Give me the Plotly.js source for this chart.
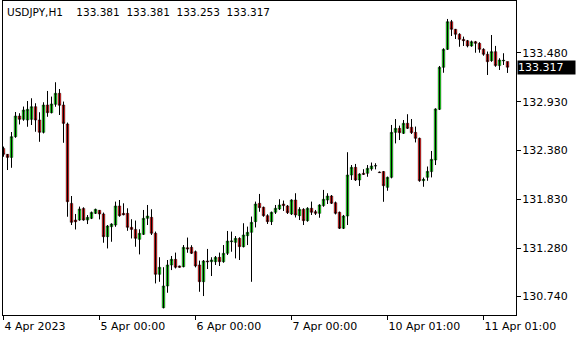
<!DOCTYPE html>
<html>
<head>
<meta charset="utf-8">
<script src="https://cdn.plot.ly/plotly-3.0.1.min.js"></script>
<style>html,body{margin:0;padding:0;background:#fff;}#chart{width:580px;height:340px;}</style>
</head>
<body>
<div id="chart"></div>
<script>
// Hourly bar times (categories): 4 Apr 00:00 .. 7 Apr 22:00, then 10 Apr 00:00 .. 11 Apr 07:00
const sessions = [
  {day: '2023-04-04', from: 0, to: 23},
  {day: '2023-04-05', from: 0, to: 23},
  {day: '2023-04-06', from: 0, to: 23},
  {day: '2023-04-07', from: 0, to: 22},
  {day: '2023-04-10', from: 0, to: 23},
  {day: '2023-04-11', from: 0, to: 7}
];
const times = [];
sessions.forEach(s => { for (let h = s.from; h <= s.to; h++) times.push(s.day + ' ' + String(h).padStart(2, '0') + ':00'); });

const open = [
132.405,132.338,132.304,132.537,132.769,132.731,132.724,132.731,132.874,132.724,
132.585,132.892,132.806,132.900,133.024,132.892,132.679,131.787,131.600,131.600,
131.731,131.600,131.619,131.675,131.709,131.668,131.413,131.525,131.544,131.758,
131.675,131.675,131.518,131.495,131.383,131.439,131.619,131.630,131.451,130.990,
130.615,130.859,131.095,131.158,131.084,131.076,131.289,131.293,131.245,131.095,
130.907,131.140,131.132,131.132,131.181,131.132,131.226,131.357,131.349,131.394,
131.301,131.424,131.462,131.582,131.788,131.743,131.649,131.582,131.687,131.724,
131.780,131.758,131.668,131.825,131.649,131.720,131.593,131.732,131.694,131.675,
131.762,131.825,131.870,131.795,131.687,131.507,131.645,132.106,132.192,132.050,
132.125,132.125,132.174,132.207,132.139,132.144,131.967,132.080,132.585,132.630,
132.574,132.687,132.642,132.585,132.518,132.042,132.080,132.144,132.275,132.844,
133.316,133.518,133.829,133.743,133.687,133.630,133.615,133.556,133.604,133.585,
133.518,133.462,133.391,133.492,133.335,133.388,133.381];
const high = [
132.424,132.342,132.589,132.814,132.799,132.874,132.937,132.967,132.911,132.810,
132.922,133.050,132.986,133.147,133.072,132.930,132.694,131.870,131.668,131.750,
131.742,131.656,131.694,131.727,131.713,131.683,131.544,131.563,131.806,131.825,
131.787,131.731,131.608,131.593,131.495,131.713,131.769,131.720,131.469,131.181,
131.069,131.151,131.196,131.233,131.087,131.319,131.402,131.316,131.256,131.143,
131.151,131.275,131.181,131.196,131.233,131.319,131.477,131.469,131.420,131.405,
131.563,131.525,131.638,131.806,131.893,131.750,131.664,131.694,131.769,131.833,
131.818,131.769,131.833,131.900,131.743,131.732,131.743,131.806,131.713,131.777,
131.938,131.900,131.881,131.806,131.694,131.657,132.361,132.218,132.230,132.125,
132.170,132.218,132.245,132.237,132.144,132.151,132.087,132.668,132.735,132.660,
132.724,132.788,132.735,132.649,132.525,132.076,132.200,132.376,132.855,133.331,
133.529,133.859,133.848,133.747,133.698,133.660,133.623,133.615,133.612,133.597,
133.529,133.492,133.679,133.556,133.417,133.473,133.381];
const low = [
132.312,132.162,132.188,132.525,132.675,132.716,132.649,132.668,132.593,132.480,
132.574,132.761,132.799,132.874,132.780,132.469,131.638,131.544,131.495,131.593,
131.593,131.555,131.611,131.668,131.608,131.346,131.282,131.357,131.525,131.638,
131.653,131.480,131.394,131.301,131.215,131.432,131.544,131.432,130.889,130.907,
130.608,130.784,131.038,131.057,131.065,131.069,131.233,131.218,131.069,130.795,
130.746,131.050,130.971,131.095,131.084,131.121,131.207,131.245,131.170,131.151,
131.293,131.319,130.907,131.518,131.694,131.638,131.556,131.544,131.668,131.713,
131.702,131.668,131.657,131.630,131.600,131.544,131.582,131.657,131.657,131.627,
131.750,131.780,131.780,131.664,131.499,131.499,131.544,132.050,132.039,131.983,
132.106,132.087,132.155,132.170,132.129,131.806,131.930,132.069,132.462,132.499,
132.567,132.623,132.567,132.473,132.031,131.975,132.042,132.080,132.218,132.836,
133.256,133.511,133.668,133.634,133.548,133.556,133.541,133.548,133.481,133.481,
133.447,133.230,133.379,133.323,133.286,133.342,133.253];
const close = [
132.338,132.304,132.537,132.769,132.731,132.836,132.844,132.874,132.724,132.585,
132.892,132.806,132.904,133.024,132.889,132.686,131.806,131.574,131.581,131.724,
131.600,131.630,131.686,131.720,131.668,131.413,131.533,131.555,131.758,131.649,
131.660,131.518,131.495,131.394,131.451,131.619,131.645,131.451,130.990,131.069,
130.859,131.095,131.158,131.069,131.069,131.293,131.275,131.226,131.084,130.907,
131.140,131.132,131.151,131.181,131.132,131.226,131.364,131.364,131.394,131.301,
131.432,131.462,131.574,131.780,131.739,131.649,131.582,131.687,131.732,131.769,
131.762,131.683,131.825,131.657,131.720,131.593,131.732,131.687,131.675,131.769,
131.833,131.870,131.788,131.675,131.507,131.645,132.106,132.192,132.050,132.117,
132.114,132.181,132.207,132.211,132.133,131.986,132.080,132.585,132.630,132.582,
132.687,132.630,132.582,132.518,132.042,132.057,132.147,132.282,132.848,133.316,
133.518,133.829,133.743,133.687,133.630,133.615,133.556,133.604,133.585,133.518,
133.462,133.379,133.492,133.335,133.398,133.394,133.317];

const symbol = 'USDJPY,H1';
const xTickVals = ['2023-04-04 00:00','2023-04-05 00:00','2023-04-06 00:00','2023-04-07 00:00','2023-04-10 01:00','2023-04-11 01:00'];
const xTickText = ['4 Apr 2023','5 Apr 00:00','6 Apr 00:00','7 Apr 00:00','10 Apr 01:00','11 Apr 01:00'];
const yTickVals = [130.740, 131.280, 131.830, 132.380, 132.930, 133.480];
const yTickText = ['130.740','131.280','131.830','132.380','132.930','133.480'];

const last = open.length - 1;
const fmt = v => v.toFixed(3);
const nb = '\u00A0';
const header = symbol + nb.repeat(4) + [open[last], high[last], low[last], close[last]].map(fmt).join(nb + nb);

const font = {family: 'DejaVu Sans, Verdana, sans-serif', size: 11, color: '#000'};

// crisp 1px black wicks (high-low), drawn beneath the candle bodies
const wickX = [], wickY = [];
times.forEach((t, i) => { wickX.push(t, t, null); wickY.push(low[i], high[i], null); });
const wicks = {
  type: 'scatter', mode: 'lines', x: wickX, y: wickY, connectgaps: false,
  line: {color: '#000', width: 1}, hoverinfo: 'skip', showlegend: false
};

const candles = {
  type: 'candlestick', x: times, open: open, high: high, low: low, close: close,
  increasing: {line: {color: '#000', width: 0.45}, fillcolor: '#00ff00'},
  decreasing: {line: {color: '#000', width: 0.45}, fillcolor: '#ff0000'},
  whiskerwidth: 0, hoverinfo: 'skip', showlegend: false
};

const layout = {
  width: 580, height: 340,
  margin: {l: 3, r: 64, t: 1, b: 25, pad: 0},
  paper_bgcolor: '#fff', plot_bgcolor: '#fff', showlegend: false,
  font: font,
  boxgap: 0.35, boxgroupgap: 0,
  xaxis: {
    type: 'category', categoryorder: 'array', categoryarray: times,
    range: [-0.125, 128.125], rangeslider: {visible: false},
    tickmode: 'array', tickvals: xTickVals, ticktext: xTickText,
    ticks: 'outside', ticklen: 4, tickcolor: '#000', tickwidth: 1,
    ticklabelposition: 'outside right', ticklabelstandoff: 1,
    showline: true, linecolor: '#000', linewidth: 1, mirror: true,
    showgrid: false, zeroline: false, tickfont: font, fixedrange: true
  },
  yaxis: {
    side: 'right', range: [130.533, 134.061],
    tickmode: 'array', tickvals: yTickVals, ticktext: yTickText,
    ticks: 'outside', ticklen: 4, tickcolor: '#000', tickwidth: 1,
    ticklabelstandoff: -1,
    showline: true, linecolor: '#000', linewidth: 1, mirror: true,
    showgrid: false, zeroline: false, tickfont: font, fixedrange: true
  },
  annotations: [
    {xref: 'paper', yref: 'paper', x: 0, y: 1, xanchor: 'left', yanchor: 'top',
     xshift: 2, yshift: -3, text: header, showarrow: false,
     font: {family: 'DejaVu Sans, Verdana, sans-serif', size: 10.5, color: '#000'}},
    {xref: 'paper', yref: 'y', x: 1, y: close[last], xanchor: 'left', yanchor: 'middle',
     xshift: 1, text: fmt(close[last]), showarrow: false, bgcolor: '#000',
     width: 57, height: 13, align: 'left', borderpad: 0,
     font: {family: 'DejaVu Sans, Verdana, sans-serif', size: 11, color: '#fff'}}
  ]
};

Plotly.newPlot('chart', [wicks, candles], layout, {displayModeBar: false, staticPlot: true});
</script>
</body>
</html>
